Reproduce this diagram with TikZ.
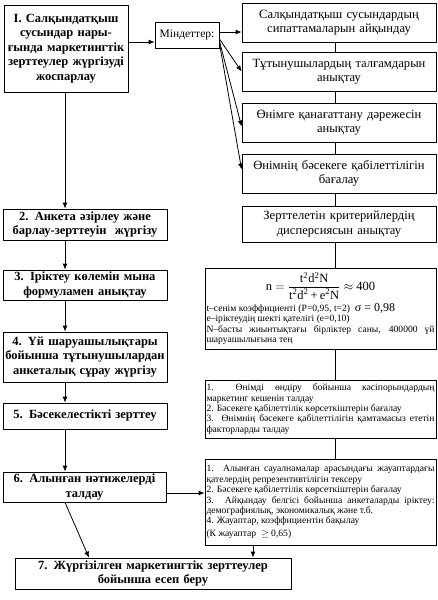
\documentclass[tikz,border=0pt]{standalone}
\usepackage{fontspec}
\setmainfont{Liberation Serif}
\usetikzlibrary{arrows.meta}
\begin{document}
\begin{tikzpicture}[x=1pt,y=-1pt,
  box/.style={draw, line width=0.8pt, inner sep=0pt, align=center},
  lbox/.style={box, font=\fontsize{12.5}{14.6}\selectfont\bfseries},
  rbox/.style={box, font=\fontsize{12.6}{14.4}\selectfont, minimum width=194pt, minimum height=39pt, text width=190pt},
  sbox/.style={box, align=justify, font=\fontsize{9.6}{10.4}\selectfont, minimum width=231pt, text width=228pt},
  arr/.style={line width=0.8pt, -{Latex[length=6pt,width=5pt]}},
  ln/.style={line width=0.8pt}]
\useasboundingbox (0,0) rectangle (438,600);
\fill[white] (0,0) rectangle (438,600);
% left column
\node[lbox, minimum width=124pt, minimum height=87pt, text width=122pt] (B1) at (66,48.5)
  {I. Салқындатқыш\\ сусындар нары-\\ ғында маркетингтік\\ зерттеулер жүргізуді\\ жоспарлау};
\node[lbox, minimum width=164pt, minimum height=31pt, text width=162pt] (B2) at (85,224.5)
  {2. Анкета әзірлеу және\\ барлау-зерттеуін\ \ жүргізу};
\node[lbox, minimum width=164pt, minimum height=30pt, text width=162pt] (B3) at (85,285)
  {3. Іріктеу көлемін мына\\ формуламен анықтау};
\node[lbox, minimum width=164pt, minimum height=50pt, text width=162pt] (B4) at (85,357)
  {4. Үй шаруашылықтары\\ бойынша тұтынушылардан\\ анкеталық сұрау жүргізу};
\node[lbox, minimum width=164pt, minimum height=26pt, text width=162pt] (B5) at (85,416)
  {5. Бәсекелестікті зерттеу};
\node[lbox, minimum width=163pt, minimum height=30pt, text width=161pt] (B6) at (84.5,487)
  {6. Алынған нәтижелерді\\ талдау};
\node[lbox, minimum width=276pt, minimum height=31pt, text width=272pt] (B7) at (153,573.5)
  {7. Жүргізілген маркетингтік зерттеулер\\ бойынша есеп беру};
% tasks
\node[box, font=\fontsize{11.5}{13}\selectfont, minimum width=64pt, minimum height=26pt] (M) at (187,35) {Міндеттер:};
\node[rbox] (R1) at (339,22.5) {Салқындатқыш сусындардың\\ сипаттамаларын айқындау};
\node[rbox] (R2) at (339,71.5) {Тұтынушылардың талғамдарын\\ анықтау};
\node[rbox] (R3) at (339,122.5) {Өнімге қанағаттану дәрежесін\\ анықтау};
\node[rbox] (R4) at (339,173.5) {Өнімнің бәсекеге қабілеттілігін\\ бағалау};
\node[rbox, minimum height=36pt] (R5) at (339,224) {Зерттелетін критерийлердің\\ дисперсиясын анықтау};
\node[sbox, minimum height=81pt] (R6) at (320.5,308.5)
  {{\centering\fontsize{12.5}{14}\selectfont $\displaystyle\mbox{n}=\frac{\mbox{t\textsuperscript{2}d\textsuperscript{2}N}}{\mbox{t\textsuperscript{2}d\textsuperscript{2}\,+\,e\textsuperscript{2}N}}\approx\mbox{400}$\par}
   \vspace{3pt}
   t–сенім коэффициенті (P=0,95, t=2)\ \ {\fontsize{12}{11}\selectfont σ = 0,98}\\
   e–іріктеудің шекті қателігі (e=0,10)\\
   N–басты жиынтықтағы бірліктер саны, 400000 үй\linebreak шаруашылығына тең};
\node[sbox, minimum height=58pt] (R7) at (320.5,409)
  {1.\ \ Өнімді өндіру бойынша кәсіпорындардың\linebreak маркетинг кешенін талдау\\
   2. Бәсекеге қабілеттілік көрсеткіштерін бағалау\\
   3. Өнімнің бәсекеге қабілеттілігін қамтамасыз ететін\linebreak факторларды талдау};
\node[sbox, minimum height=86pt] (R8) at (320.5,502)
  {1. Алынған сауалнамалар арасындағы жауаптардағы\linebreak қателердің репрезентивтілігін тексеру\\
   2. Бәсекеге қабілеттілік көрсеткіштерін бағалау\\
   3. Айқындау белгісі бойынша анкеталарды іріктеу:\linebreak демографиялық, экономикалық және т.б.\\
   4. Жауаптар, коэффициентін бақылау\\[2pt]
   (К жауаптар\ \ $\geq$ 0,65)};
% helper coordinates
\coordinate (lx) at (65,0);
\coordinate (rx) at (335,0);
\coordinate (dx) at (89,0);
\coordinate (bx) at (253,0);
\coordinate (m1) at (0,42);
\coordinate (m2) at (0,32);
\coordinate (m3) at (0,493);
% left chain
\draw[arr] (B1.south -| lx) -- (B2.north -| lx);
\draw[arr] (B2.south -| lx) -- (B3.north -| lx);
\draw[arr] (B3.south -| lx) -- (B4.north -| lx);
\draw[arr] (B4.south -| lx) -- (B5.north -| lx);
\draw[arr] (B5.south -| lx) -- (B6.north -| lx);
\draw[arr] (B6.south -| lx) -- (B7.north -| dx);
% to tasks
\draw[arr] (B1.east |- m1) -- (M.west |- m1);
\draw[arr] (M.east |- m2) -- (R1.west |- m2);
\draw[arr] ([yshift=-4pt]M.east) -- (R2.west);
\draw[arr] ([yshift=-6pt]M.east) -- ([yshift=-4pt]R3.west);
\draw[arr] ([yshift=-8pt]M.east) -- ([yshift=4pt]R4.west);
% right chain
\draw[ln] (R1.south -| rx) -- (R2.north -| rx);
\draw[ln] (R2.south -| rx) -- (R3.north -| rx);
\draw[ln] (R3.south -| rx) -- (R4.north -| rx);
\draw[ln] (R4.south -| rx) -- (R5.north -| rx);
\draw[ln] (R5.south -| rx) -- (R6.north -| rx);
\draw[ln] (R6.south -| rx) -- (R7.north -| rx);
\draw[ln] (R7.south -| rx) -- (R8.north -| rx);
% bottom links
\draw[arr] (B6.east |- m3) -- (R8.west |- m3);
\draw[arr] (R8.south -| bx) -- (B7.north -| bx);
\end{tikzpicture}
\end{document}
